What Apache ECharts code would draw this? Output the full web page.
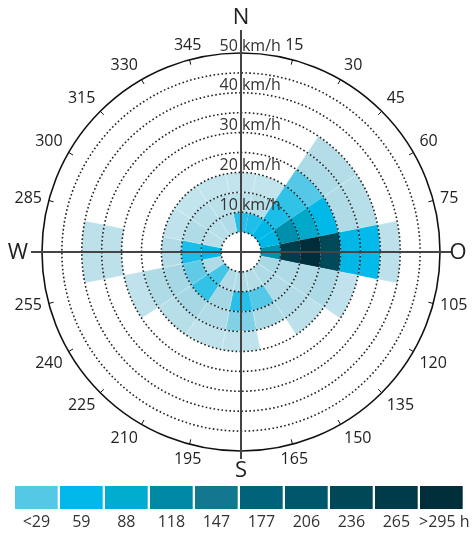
<!DOCTYPE html>
<html>
<head>
<meta charset="utf-8">
<script src="https://cdn.jsdelivr.net/npm/echarts@6/dist/echarts.min.js"></script>
<style>
html, body { margin: 0; padding: 0; background: #fff; }
#chart { width: 474px; height: 535px; }
</style>
</head>
<body>
<div id="chart"></div>
<script>
// Wind directions: 16 sectors of 22.5°, clockwise from north
const directions = ['N','NNE','NE','ENE','E','ESE','SE','SSE','S','SSW','SW','WSW','W','WNW','NW','NNW'];

// Hours per direction for each 5 km/h speed band
const hours5to10  = [45, 48, 60, 62, 110, 11, 9, 7, 8, 8, 36, 9, 60, 6, 6, 8];
const hours10to15 = [5, 6, 50, 112, 262, 9, 8, 30, 45, 12, 42, 27, 50, 9, 6, 5];
const hours15to20 = [2, 2, 42, 92, 300, 8, 8, 10, 20, 8, 12, 12, 8, 3, 2, 2];
const hours20to25 = [0, 0, 30, 60, 232, 10, 4, 0, 3, 3, 6, 9, 0, 0, 0, 0];
const hours25to30 = [0, 0, 10, 9, 65, 3, 0, 0, 0, 0, 0, 3, 0, 0, 0, 0];
const hours30to35 = [0, 0, 7, 6, 58, 0, 0, 0, 0, 0, 0, 0, 4, 0, 0, 0];
const hours35to40 = [0, 0, 0, 0, 4, 0, 0, 0, 0, 0, 0, 0, 4, 0, 0, 0];

const speedBands = [hours5to10, hours10to15, hours15to20, hours20to25, hours25to30, hours30to35, hours35to40];
const bandWidth = 5;          // km/h per ring
const calmLimit = 5;          // empty centre, 0-5 km/h
const speedMax = 50;

// Colour legend
const legendLabels = ['<29', '59', '88', '118', '147', '177', '206', '236', '265', '>295 h'];
const legendColors = ['#55c8e6', '#00b9ea', '#00adcf', '#0089a5', '#12778f', '#00637a', '#00566a', '#004858', '#003b4a', '#002d3a'];

// Compass letters at the quarter points of the angle axis
const compassLetters = { 0: 'N', 90: 'O', 180: 'S', 270: 'W' };

// Colour ramp: hours -> colour
const rampHours  = [0, 12, 29.5, 59, 88.5, 118, 147.5, 177, 206.5, 236, 265.5, 295];
const rampColors = ['#c8e6ee', '#a6d7e4'].concat(legendColors);

function hexToRgb(h) {
  const n = parseInt(h.slice(1), 16);
  return [(n >> 16) & 255, (n >> 8) & 255, n & 255];
}
function colorFor(h) {
  if (!h) return 'rgba(0,0,0,0)';
  if (h >= rampHours[rampHours.length - 1]) return rampColors[rampColors.length - 1];
  for (let i = 0; i < rampHours.length - 1; i++) {
    if (h <= rampHours[i + 1]) {
      const t = (h - rampHours[i]) / (rampHours[i + 1] - rampHours[i]);
      const a = hexToRgb(rampColors[i]), b = hexToRgb(rampColors[i + 1]);
      const c = a.map((v, k) => Math.round(v + (b[k] - v) * t));
      return 'rgb(' + c.join(',') + ')';
    }
  }
  return rampColors[rampColors.length - 1];
}

const CX = 241, CY = 252, R = 199;
const FONT = '"Open Sans", "Noto Sans", sans-serif';

const chart = echarts.init(document.getElementById('chart'), null, { renderer: 'canvas' });

const series = [{
  type: 'bar', coordinateSystem: 'polar', polarIndex: 0, stack: 'speed',
  silent: true, barCategoryGap: '0%',
  data: directions.map(() => ({ value: calmLimit, itemStyle: { color: 'rgba(0,0,0,0)' } }))
}];
speedBands.forEach((band, k) => {
  series.push({
    type: 'bar', coordinateSystem: 'polar', polarIndex: 0, stack: 'speed',
    name: (calmLimit + k * bandWidth) + '-' + (calmLimit + (k + 1) * bandWidth) + ' km/h',
    silent: true, barCategoryGap: '0%',
    data: band.map(h => ({
      value: bandWidth,
      itemStyle: {
        color: colorFor(h),
        borderColor: h > 0 && h < 29 ? 'rgba(255,255,255,0.35)' : 'rgba(0,0,0,0)',
        borderWidth: h > 0 && h < 29 ? 0.6 : 0
      }
    }))
  });
});

const dotColors = [];
for (let v = 0; v <= speedMax; v += bandWidth) dotColors.push(v === speedMax ? 'rgba(0,0,0,0)' : '#222');

chart.setOption({
  backgroundColor: '#fff',
  animation: false,
  polar: [
    { center: [CX, CY], radius: R },
    { center: [CX, CY], radius: R }
  ],
  angleAxis: [
    {
      polarIndex: 0, type: 'category', data: directions,
      startAngle: 90 + 360 / directions.length / 2, clockwise: true,
      axisLine: { show: false }, axisTick: { show: false }, axisLabel: { show: false },
      splitLine: { show: false }
    },
    {
      polarIndex: 1, type: 'value', min: 0, max: 360, interval: 15,
      startAngle: 90, clockwise: true, z: 6,
      axisLine: { show: true, lineStyle: { color: '#111', width: 1.6 } },
      axisTick: { show: true, inside: true, length: 5, lineStyle: { color: '#111', width: 1 } },
      axisLabel: {
        margin: 7, fontSize: 16, color: '#222', fontFamily: FONT,
        formatter: v => (v % 90 === 0 ? '' : String(v))
      },
      splitLine: { show: false }
    }
  ],
  radiusAxis: [
    {
      polarIndex: 0, type: 'value', min: 0, max: speedMax, interval: bandWidth, z: 5,
      axisLine: { show: false }, axisTick: { show: false }, axisLabel: { show: false },
      splitLine: { show: true, lineStyle: { color: dotColors, width: 1.6, type: [1.6, 2.4] } }
    },
    { polarIndex: 1, type: 'value', min: 0, max: speedMax, show: false }
  ],
  series: series
});

// Compass cross, compass letters, speed labels and colour legend
const graphics = [
  { type: 'line', z: 50, shape: { x1: CX, y1: 30, x2: CX, y2: 459 }, style: { stroke: '#444', lineWidth: 2 } },
  { type: 'line', z: 50, shape: { x1: 31, y1: CY, x2: 451, y2: CY }, style: { stroke: '#444', lineWidth: 2 } }
];
const letterPos = { 0: [CX, 18], 90: [458, CY + 1], 180: [CX, 471], 270: [18, CY + 1] };
Object.keys(compassLetters).forEach(a => {
  graphics.push({
    type: 'text', z: 60, x: letterPos[a][0], y: letterPos[a][1],
    style: { text: compassLetters[a], fill: '#222', font: '22px ' + FONT,
             textAlign: 'center', textVerticalAlign: 'middle', align: 'center', verticalAlign: 'middle' }
  });
});
for (let v = 10; v <= speedMax; v += 10) {
  const p = chart.convertToPixel({ polarIndex: 0 }, [v, 0]);
  graphics.push({
    type: 'text', z: 60, x: p[0] - 21.5, y: p[1] - 7,
    style: { text: v + ' km/h', fill: '#333', font: '16px ' + FONT,
             textAlign: 'left', textVerticalAlign: 'middle', align: 'left', verticalAlign: 'middle' }
  });
}
const boxX = 15, boxY = 486, boxW = 42.7, boxH = 23, boxStep = 45;
legendColors.forEach((c, i) => {
  graphics.push({ type: 'rect', z: 60, shape: { x: boxX + i * boxStep, y: boxY, width: boxW, height: boxH }, style: { fill: c } });
  const last = i === legendColors.length - 1;
  graphics.push({
    type: 'text', z: 60, x: last ? boxX + i * boxStep - 1 : boxX + i * boxStep + boxW / 2, y: 522.5,
    style: { text: legendLabels[i], fill: '#333', font: '16px ' + FONT,
             textAlign: last ? 'left' : 'center', textVerticalAlign: 'middle',
             align: last ? 'left' : 'center', verticalAlign: 'middle' }
  });
});
chart.setOption({ graphic: { elements: graphics } });
</script>
</body>
</html>
